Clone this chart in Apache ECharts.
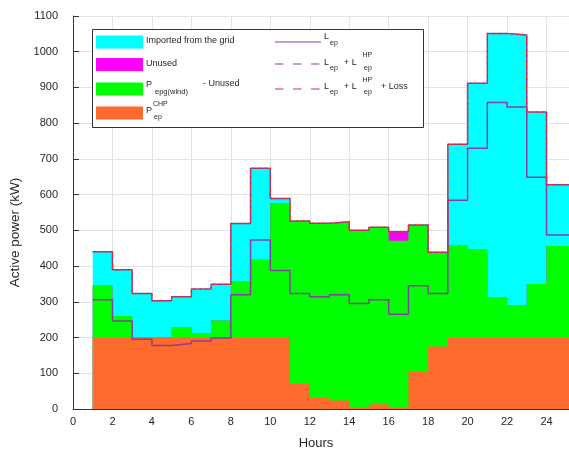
<!DOCTYPE html>
<html>
<head>
<meta charset="utf-8">
<script src="https://cdn.jsdelivr.net/npm/echarts/dist/echarts.min.js"></script>
<style>
html,body{margin:0;padding:0;background:#ffffff;}
#chart{width:569px;height:449px;}
</style>
</head>
<body>
<div id="chart"></div>
<script>
// ---- data (hour intervals 1..24, value holds from h to h+1) ----
const hours = [1,2,3,4,5,6,7,8,9,10,11,12,13,14,15,16,17,18,19,20,21,22,23,24];
const xTickLabels = ['0','2','4','6','8','10','12','14','16','18','20','22','24'];
const yTickLabels = ['0','100','200','300','400','500','600','700','800','900','1000','1100'];

const chpPower    = [200,200,200,200,200,200,200,200,200,200,72,31,24,5,13,3,105,175,200,200,200,200,200,200];
const windNet     = [146,60,0,0,28,11,48,157,218,376,454,489,500,495,496,468,410,264,259,247,112,90,150,256];
const unusedPower = [0,0,0,0,0,0,0,0,0,0,0,0,0,0,0,25,0,0,0,0,0,0,0,0];
const gridImport  = [94,130,123,103,86,125,101,162,256,13,0,0,0,0,0,0,0,0,282,465,739,757,481,172];

const loadLep     = [306,246,195,178,183,190,199,320,473,388,323,314,320,295,306,265,345,323,584,730,858,845,649,487];
const loadLepHP   = [440,390,323,303,314,336,349,519,674,589,526,520,524,500,509,496,515,439,741,912,1051,1047,831,628];
const loadTotal   = [440,390,323,303,314,336,349,519,674,589,526,520,524,500,509,496,515,439,741,912,1051,1047,831,628];

// ---- helpers ----
const FONT = 'Liberation Sans, Arial, sans-serif';
const TXT = '#262626';
const C_CYAN = '#00ffff', C_MAG = '#ff00ff', C_GREEN = '#00ff00', C_ORANGE = '#ff6b2c';
const C_PURPLE = '#8a3fa0', C_RED = '#e8282e';
const X_MAX = 25.14;

// cumulative layers (stack built by hand, drawn top layer first)
const cumCHP = chpPower.slice();
const cumWind = cumCHP.map((v,i)=>v+windNet[i]);
const cumUnused = cumWind.map((v,i)=>v+unusedPower[i]);
const cumImport = cumUnused.map((v,i)=>v+gridImport[i]);

function stepData(arr){
  const d = hours.map((h,i)=>[h, arr[i]]);
  d.push([X_MAX, arr[arr.length-1]]);
  return d;
}
function areaSeries(name, arr, color){
  return {
    name, type:'line', step:'end', data: stepData(arr),
    symbol:'none', showSymbol:false, silent:true,
    lineStyle:{width:0}, itemStyle:{color}, areaStyle:{color, opacity:1, origin:'start'}, z:2
  };
}
function lineSeries(name, arr, color, dash, offset){
  return {
    name, type:'line', step:'end', data: stepData(arr),
    symbol:'none', showSymbol:false, silent:true,
    lineStyle:{color, width:1.5, type: dash || 'solid', dashOffset: offset || 0}, z:4
  };
}

// ---- legend drawn as graphic ----
const txt = (x,y,s,size) => ({type:'text', x, y, style:{text:s, fill:TXT, font: size+'px '+FONT, textVerticalAlign:'middle', verticalAlign:'middle'}, z:100});
const sw = (y,color) => ({type:'rect', shape:{x:96, y:y, width:47, height:13}, style:{fill:color}, z:100});
const ln = (y,color,dash) => ({type:'line', shape:{x1:275, y1:y, x2:321, y2:y}, style:{stroke:color, lineWidth:1.2, lineDash: dash || null}, z:100});

const legendGraphics = [
  {type:'rect', shape:{x:92.5, y:29.5, width:331, height:98}, style:{fill:'#ffffff', stroke:'#333333', lineWidth:1}, z:99},
  sw(35.5, C_CYAN), sw(58, C_MAG), sw(82.5, C_GREEN), sw(106.5, C_ORANGE),
  txt(146, 41, 'Imported from the grid', 9),
  txt(146, 64, 'Unused', 9),
  txt(146, 85, 'P', 9), txt(155, 92, 'epg(wind)', 7.5), txt(203, 84, '- Unused', 9),
  txt(146, 111, 'P', 9), txt(153, 104.5, 'CHP', 7), txt(154, 117, 'ep', 7),
  ln(42, C_PURPLE), ln(64, C_PURPLE, [8.5,9.5]), ln(89, C_RED, [8.5,9.5]),
  txt(324, 36.5, 'L', 9), txt(330, 43, 'ep', 7),
  txt(324, 62.3, 'L', 9), txt(330, 68, 'ep', 7), txt(344, 62.3, '+ L', 9), txt(362.5, 55, 'HP', 7), txt(364, 68, 'ep', 7),
  txt(324, 86.3, 'L', 9), txt(330, 92, 'ep', 7), txt(344, 86.3, '+ L', 9), txt(362.5, 80.5, 'HP', 7), txt(364, 92, 'ep', 7), txt(381, 86.3, '+ Loss', 9)
];

const chart = echarts.init(document.getElementById('chart'), null, {renderer:'canvas'});
chart.setOption({
  animation:false,
  backgroundColor:'#ffffff',
  textStyle:{fontFamily:FONT},
  grid:{left:73, top:16, right:0, bottom:40, containLabel:false, outerBoundsMode:'none'},
  xAxis:{
    type:'value', min:0, max:X_MAX, interval:2,
    name:'Hours', nameLocation:'middle', nameGap:28,
    nameTextStyle:{color:TXT, fontSize:13, fontFamily:FONT, padding:[0,10,0,0]},
    axisLine:{show:true, lineStyle:{color:'#333333', width:1}},
    axisTick:{show:true, inside:true, length:5, lineStyle:{color:'#333333'}},
    axisLabel:{color:TXT, fontSize:11, fontFamily:FONT, margin:7, showMaxLabel:false,
      formatter: v => xTickLabels.includes(String(v)) ? String(v) : ''},
    splitLine:{show:true, lineStyle:{color:'#e2e2e2', width:1}}
  },
  yAxis:{
    type:'value', min:0, max:1100, interval:100,
    name:'Active power (kW)', nameLocation:'middle', nameGap:50,
    nameTextStyle:{color:TXT, fontSize:13.5, fontFamily:FONT, padding:[0,40,0,0]},
    axisLine:{show:true, lineStyle:{color:'#333333', width:1}},
    axisTick:{show:true, inside:true, length:6, lineStyle:{color:'#333333'}},
    axisLabel:{color:TXT, fontSize:11, fontFamily:FONT, margin:15,
      formatter: v => yTickLabels.includes(String(v)) ? String(v) : ''},
    splitLine:{show:true, lineStyle:{color:'#e2e2e2', width:1}}
  },
  series:[
    areaSeries('Imported from the grid', cumImport, C_CYAN),
    areaSeries('Unused', cumUnused, C_MAG),
    areaSeries('P_epg(wind) - Unused', cumWind, C_GREEN),
    areaSeries('P_ep^CHP', cumCHP, C_ORANGE),
    lineSeries('L_ep', loadLep, C_PURPLE),
    lineSeries('L_ep + L_ep^HP', loadLepHP, C_PURPLE, [7,5], 0),
    lineSeries('L_ep + L_ep^HP + Loss', loadTotal, C_RED, [7,5], 6)
  ],
  graphic: legendGraphics
});
</script>
</body>
</html>
